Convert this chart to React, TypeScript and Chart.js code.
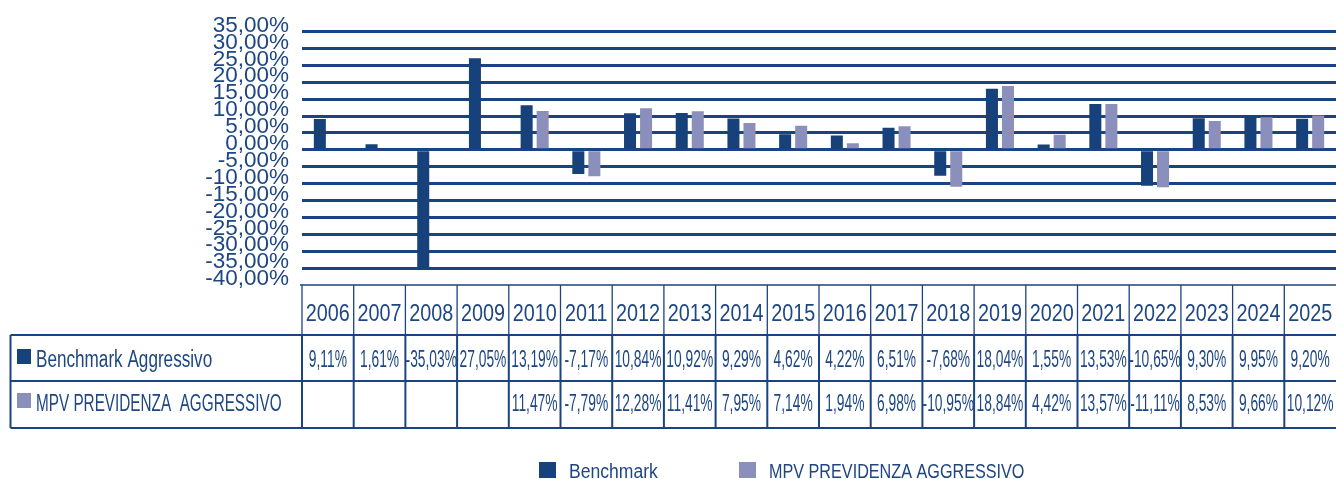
import React, { useEffect, useRef } from 'react';
import { Chart, registerables } from 'chart.js';

Chart.register(...registerables);

const years = ['2006', '2007', '2008', '2009', '2010', '2011', '2012', '2013', '2014', '2015', '2016', '2017', '2018', '2019', '2020', '2021', '2022', '2023', '2024', '2025'];
const benchmark = [9.11, 1.61, -35.03, 27.05, 13.19, -7.17, 10.84, 10.92, 9.29, 4.62, 4.22, 6.51, -7.68, 18.04, 1.55, 13.53, -10.65, 9.3, 9.95, 9.2];
const mpv = [null, null, null, null, 11.47, -7.79, 12.28, 11.41, 7.95, 7.14, 1.94, 6.98, -10.95, 18.84, 4.42, 13.57, -11.11, 8.53, 9.66, 10.12];
const yTicks = [-40, -35, -30, -25, -20, -15, -10, -5, 0, 5, 10, 15, 20, 25, 30, 35];
const seriesNames = ['Benchmark', 'MPV PREVIDENZA AGGRESSIVO'];
const rowLabels = ['Benchmark Aggressivo', 'MPV PREVIDENZA  AGGRESSIVO'];

const DARK = '#17417b';
const LIGHT = '#8b8fbb';
const LINE = '#1a4382';
const TEXT = '#1d4683';
const FONT = "'Liberation Sans', Arial, sans-serif";

const fmt = (v: number) => v.toFixed(2).replace('.', ',') + '%';

function drawText(ctx: CanvasRenderingContext2D, text: string, x: number, y: number, size: number, sx: number, align: CanvasTextAlign) {
  ctx.save();
  ctx.font = `${size}px ${FONT}`;
  ctx.textAlign = align;
  ctx.textBaseline = 'alphabetic';
  ctx.fillStyle = TEXT;
  ctx.translate(x, y);
  ctx.scale(sx, 1);
  ctx.fillText(text, 0, 0);
  ctx.restore();
}

function line(ctx: CanvasRenderingContext2D, x1: number, y1: number, x2: number, y2: number) {
  ctx.beginPath();
  ctx.moveTo(x1, y1);
  ctx.lineTo(x2, y2);
  ctx.stroke();
}

const tablePlugin = {
  id: 'dataTable',
  afterDraw(chart: any) {
    const { ctx, chartArea } = chart;
    const xs = chart.scales.x;
    const n = years.length;
    const colW = (chartArea.right - chartArea.left) / n;
    const top = chartArea.bottom;
    const hB = top + 50;
    const r1B = hB + 46;
    const r2B = r1B + 47;
    const tableLeft = 10.5;
    ctx.save();
    ctx.strokeStyle = LINE;
    ctx.lineWidth = 1.5;
    line(ctx, chartArea.left - 2, top, chartArea.right, top);
    ctx.lineWidth = 2;
    [hB, r1B, r2B].forEach((y) => line(ctx, tableLeft, y, chartArea.right, y));
    line(ctx, tableLeft, hB, tableLeft, r2B);
    for (let i = 0; i < n; i++) {
      const xb = chartArea.left + i * colW;
      ctx.lineWidth = 1.3;
      line(ctx, xb, top, xb, hB);
      ctx.lineWidth = 2;
      line(ctx, xb, hB, xb, r2B);
    }
    ctx.restore();

    const rows = [benchmark, mpv];
    for (let i = 0; i < n; i++) {
      const cx = xs.getPixelForValue(i);
      drawText(ctx, years[i], cx, top + 36, 23, 0.86, 'center');
      rows.forEach((r, k) => {
        const v = r[i];
        if (v !== null && v !== undefined) {
          drawText(ctx, fmt(v as number), cx, k === 0 ? r1B - 14 : r2B - 17, 23, 0.6, 'center');
        }
      });
    }
    const labelScales = [0.745, 0.665];
    const colors = [DARK, LIGHT];
    rowLabels.forEach((t, k) => {
      const baseY = k === 0 ? r1B - 14 : r2B - 17;
      ctx.fillStyle = colors[k];
      ctx.fillRect(17, baseY - 18, 14, 15);
      drawText(ctx, t, 36, baseY, 23, labelScales[k], 'left');
    });

    // bottom legend
    const legendX = [539, 739];
    const legendScales = [0.9, 0.83];
    seriesNames.forEach((t, k) => {
      ctx.fillStyle = colors[k];
      ctx.fillRect(legendX[k], 462, 17, 16);
      drawText(ctx, t, legendX[k] + 30, 478, 19.5, legendScales[k], 'left');
    });
  },
};

export default function App() {
  const ref = useRef<HTMLCanvasElement | null>(null);
  useEffect(() => {
    if (!ref.current) return;
    const chart = new Chart(ref.current, {
      type: 'bar',
      data: {
        labels: years,
        datasets: [
          { label: seriesNames[0], data: benchmark, backgroundColor: DARK, borderWidth: 0, categoryPercentage: 0.62, barPercentage: 0.75 },
          { label: seriesNames[1], data: mpv as any, backgroundColor: LIGHT, borderWidth: 0, categoryPercentage: 0.62, barPercentage: 0.75 },
        ],
      },
      options: {
        responsive: false,
        animation: false,
        layout: { padding: { top: 31.5, bottom: 194, left: 0, right: 0 } },
        plugins: { legend: { display: false }, tooltip: { enabled: false } },
        scales: {
          x: { display: false },
          y: {
            min: -40,
            max: 35,
            afterBuildTicks: (s: any) => {
              s.ticks = yTicks.map((value) => ({ value }));
            },
            afterFit: (s: any) => {
              s.width = 302;
            },
            border: { display: false },
            grid: {
              color: LINE,
              lineWidth: (c: any) => (c.tick && c.tick.value === -40 ? 0 : 3),
              drawTicks: false,
            },
            ticks: {
              autoSkip: false,
              padding: 13,
              labelOffset: -6,
              color: TEXT,
              font: { family: FONT, size: 22.5 },
              callback: (v: any) => fmt(Number(v)),
            },
          },
        },
      },
      plugins: [tablePlugin],
    });
    return () => chart.destroy();
  }, []);
  return (
    <div style={{ position: 'absolute', left: 0, top: 0, width: 1336, height: 479, background: '#fff' }}>
      <canvas ref={ref} width={1336} height={479} style={{ display: 'block' }} />
    </div>
  );
}
